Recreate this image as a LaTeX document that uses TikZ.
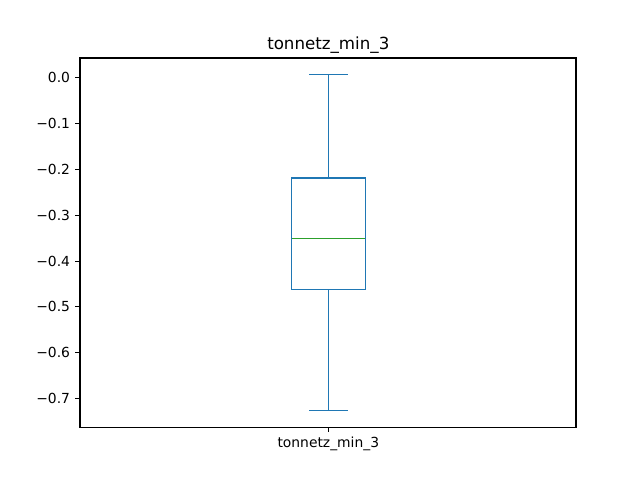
\documentclass[tikz,border=0pt]{standalone}
\usepackage{fontspec}
\setmainfont{DejaVu Sans}
\definecolor{cblue}{HTML}{1F77B4}
\definecolor{cgreen}{HTML}{2CA02C}
\begin{document}
\begin{tikzpicture}[x=0.75pt,y=-0.75pt,
  spine/.style={draw=black,line width=0.83pt},
  tickmark/.style={draw=black,line width=0.83pt},
  ylab/.style={anchor=east,font=\fontsize{10.4}{12}\selectfont,inner sep=0pt},
  xlab/.style={anchor=north,font=\fontsize{10.4}{12}\selectfont,inner sep=0pt},
  bx/.style={draw=cblue,line width=1.04pt},
  med/.style={draw=cgreen,line width=1.04pt}]
\useasboundingbox[fill=white] (0,0) rectangle (640,480);
% axes frame
\draw[spine] (80,58) rectangle (576,427.2);
% y ticks
\foreach \v/\yy in {0.0/77.3,{−0.1}/123.3,{−0.2}/169.3,{−0.3}/215.3,{−0.4}/261.1,{−0.5}/306.7,{−0.6}/352.4,{−0.7}/398.2}{
  \draw[tickmark] (75.1,\yy) -- (80,\yy);
  \node[ylab] at (70.3,\yy) {\v};
}
% x tick
\draw[tickmark] (328.3,427.2) -- (328.3,432.1);
\node[xlab] (xl) at (328.3,437) {tonnetz\_min\_3};
% title
\node[anchor=base,font=\fontsize{12.5}{14}\selectfont,inner sep=0pt] (title) at (328.3,49.6) {tonnetz\_min\_3};
% box
\coordinate (topcap) at (328.3,74.3);
\coordinate (boxtop) at (328.3,178);
\coordinate (boxbot) at (328.3,289.3);
\coordinate (botcap) at (328.3,410.3);
\draw[bx] (291.7,178) rectangle (365.3,289.3);
\draw[bx] (topcap) -- (boxtop);
\draw[bx] (boxbot) -- (botcap);
\draw[bx] (309,74.3) -- (347.7,74.3);
\draw[bx] (309,410.3) -- (347.7,410.3);
\draw[med] (291.7,238.3) -- (365.3,238.3);
\end{tikzpicture}
\end{document}
